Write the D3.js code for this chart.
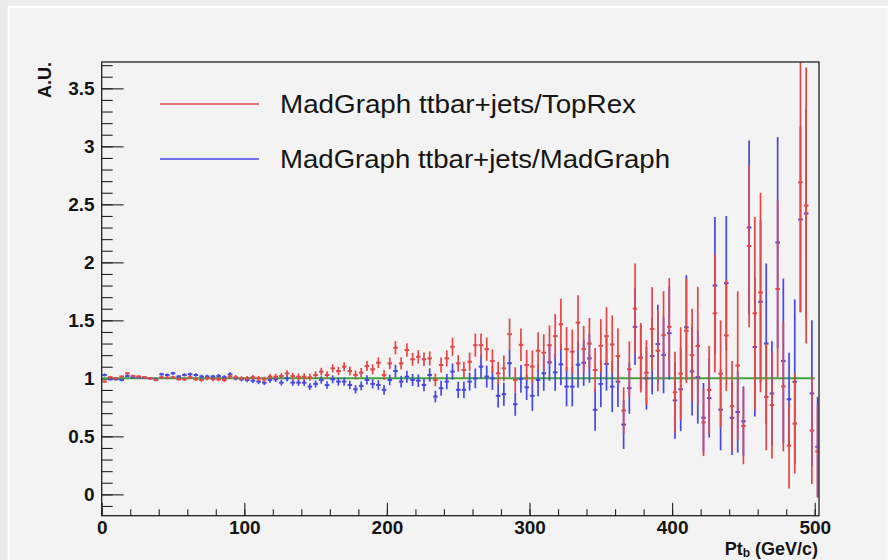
<!DOCTYPE html>
<html>
<head>
<meta charset="utf-8">
<script src="https://cdn.jsdelivr.net/npm/d3@7"></script>
<style>
  body { margin: 0; background: #ececec; }
  text { font-family: "Liberation Sans", Arial, sans-serif; fill: #151515; }
</style>
</head>
<body>
<div id="chart"></div>
<script>
/* global d3 */

// bin centres (GeV/c), 4 GeV wide bins
const ptBins = [2,6,10,14,18,22,26,30,34,38,42,46,50,54,58,62,66,70,74,78,82,86,90,94,98,
  102,106,110,114,118,122,126,130,134,138,142,146,150,154,158,162,166,170,174,178,182,186,190,194,198,
  202,206,210,214,218,222,226,230,234,238,242,246,250,254,258,262,266,270,274,278,282,286,290,294,298,
  302,306,310,314,318,322,326,330,334,338,342,346,350,354,358,362,366,370,374,378,382,386,390,394,398,
  402,406,410,414,418,422,426,430,434,438,442,446,450,454,458,462,466,470,474,478,482,486,490,494,498,502]

// MadGraph ttbar+jets / TopRex
const topRex = [0.972,1.009,1.0,1.015,1.043,1.02,1.015,1.009,1.0,0.986,1.009,1.006,1.009,0.992,0.992,
  1.009,0.992,0.986,1.0,0.992,0.992,0.986,1.015,1.009,1.0,1.0,1.009,1.0,0.992,1.015,1.015,1.02,
  1.043,1.02,1.014,1.014,1.009,1.029,1.058,1.029,1.086,1.063,1.101,1.063,1.029,1.049,1.106,1.078,1.135,1.029,
  1.129,1.264,1.129,1.244,1.164,1.186,1.164,1.172,0.986,1.115,1.172,1.272,1.129,1.072,1.143,1.286,
  1.286,1.252,1.149,1.043,1.086,1.381,0.986,1.289,1.115,
  1.101,1.238,1.221,1.286,1.364,1.466,1.252,1.23,1.481,1.252,1.3,1.072,
  1.281,1.364,1.292,1.192,0.723,1.078,1.601,1.178,1.049,1.426,1.238,1.372,1.444,
  0.88,1.04,1.41,1.2,1.28,0.62,0.9,1.56,1.04,1.37,0.76,1.11,0.59,2.14,1.56,1.74,0.84,0.77,1.77,0.93,0.42,0.61,2.69,2.49,0.55,0.37]
const topRexErr = [0.012,0.01,0.01,0.01,0.011,0.011,0.011,0.012,0.012,0.012,0.012,0.013,0.013,0.013,0.014,
  0.014,0.015,0.015,0.016,0.016,0.017,0.017,0.018,0.019,0.019,0.02,0.021,0.021,0.022,0.023,0.024,0.025,
  0.026,0.027,0.028,0.029,0.03,0.031,0.033,0.033,0.035,0.036,0.038,0.038,0.038,0.04,0.043,0.043,0.046,0.044,
  0.05,0.057,0.052,0.058,0.056,0.058,0.058,0.06,0.055,0.065,0.07,0.078,0.072,0.072,0.08,0.1,
  0.1,0.1,0.1,0.1,0.11,0.135,0.11,0.14,0.13,
  0.14,0.16,0.16,0.17,0.19,0.22,0.19,0.19,0.235,0.2,0.22,0.19,
  0.23,0.25,0.25,0.24,0.2,0.24,0.39,0.3,0.28,0.36,0.35,0.38,0.42,
  0.35,0.4,0.45,0.4,0.51,0.29,0.38,0.51,0.46,0.48,0.39,0.64,0.33,0.7,0.83,0.86,0.46,0.46,0.76,0.56,0.37,0.43,1.12,1.19,0.46,0.4]

// MadGraph ttbar+jets / MadGraph
const madGraph = [1.029,0.992,0.992,0.986,1.02,1.009,1.009,1.006,1.0,0.992,1.035,1.029,1.043,1.015,1.029,
  1.035,1.029,1.015,1.015,1.015,1.02,1.009,1.035,1.0,0.992,0.986,0.98,0.972,0.963,0.986,0.992,0.963,
  1.0,0.963,0.963,0.963,0.929,0.952,0.986,0.943,0.992,0.972,0.972,0.943,0.906,0.935,0.986,0.952,0.943,0.901,
  0.986,1.063,0.972,1.014,0.986,0.98,0.943,1.029,0.843,0.915,0.972,1.058,0.901,0.901,0.972,1.0,
  1.101,1.015,1.0,0.849,0.863,1.13,0.777,0.995,0.923,
  0.849,0.986,1.043,1.138,1.052,1.121,0.929,0.929,1.118,1.135,1.172,0.729,
  0.952,1.124,0.929,0.972,0.601,0.915,1.444,1.178,1.0,1.192,1.295,1.201,1.39,
  0.81,0.906,1.44,1.06,1.01,0.66,0.83,1.8,0.73,1.82,0.66,0.71,0.63,2.3,1.27,1.66,1.3,0.87,2.17,1.15,0.82,0.97,2.37,2.42,0.87,0.41]
const madGraphErr = [0.012,0.011,0.011,0.011,0.011,0.012,0.012,0.012,0.012,0.013,0.013,0.013,0.013,0.014,0.014,
  0.015,0.015,0.016,0.016,0.017,0.017,0.018,0.018,0.019,0.02,0.02,0.021,0.022,0.022,0.023,0.024,0.025,
  0.026,0.027,0.027,0.028,0.029,0.03,0.032,0.032,0.034,0.034,0.035,0.036,0.036,0.038,0.04,0.04,0.042,0.042,
  0.046,0.054,0.05,0.052,0.052,0.054,0.055,0.058,0.05,0.065,0.066,0.07,0.07,0.072,0.078,0.085,
  0.1,0.095,0.1,0.1,0.1,0.12,0.1,0.12,0.11,
  0.13,0.14,0.15,0.16,0.16,0.18,0.17,0.17,0.2,0.2,0.21,0.18,
  0.2,0.23,0.22,0.22,0.21,0.22,0.33,0.28,0.27,0.33,0.34,0.33,0.4,
  0.33,0.36,0.45,0.38,0.4,0.3,0.34,0.59,0.35,0.58,0.32,0.35,0.3,0.75,0.6,0.7,0.69,0.45,0.91,0.71,0.4,0.71,0.8,0.9,0.63,0.43]

const xTicks = [0, 100, 200, 300, 400, 500]
const yTicks = [0, 0.5, 1, 1.5, 2, 2.5, 3, 3.5]
const legendLabels = ['MadGraph ttbar+jets/TopRex', 'MadGraph ttbar+jets/MadGraph']

const red = '#e44648', blue = '#4747e4', green = '#3da63d'

const width = 888, height = 560
const frame = { left: 101.7, right: 819, top: 62, bottom: 515.7 }

let svg = d3.select('#chart')
  .append('svg')
  .attr('width', width)
  .attr('height', height)

// canvas border
svg.append('rect')
  .attr('x', 9).attr('y', 7)
  .attr('width', 880).attr('height', 560)
  .attr('fill', '#f3f3f3')
  .attr('stroke', '#fff')
  .attr('stroke-width', 2.5)

const xScale = d3.scaleLinear()
  .domain([0, 503])
  .range([frame.left, frame.right])

const yScale = d3.scaleLinear()
  .domain([-0.184, 3.727])
  .range([frame.bottom, frame.top])

svg.append('clipPath').attr('id', 'clip')
  .append('rect')
  .attr('x', frame.left).attr('y', frame.top)
  .attr('width', frame.right - frame.left)
  .attr('height', frame.bottom - frame.top)

// axes, ticks inside the frame like ROOT
const xMinor = d3.axisBottom(xScale)
  .tickValues(d3.range(0, 501, 20))
  .tickSize(-6.5)
  .tickFormat('')
const xAxis = d3.axisBottom(xScale)
  .tickValues(xTicks)
  .tickSize(-13)
  .tickPadding(5)
  .tickFormat(d3.format('d'))

const yMinor = d3.axisLeft(yScale)
  .tickValues(d3.range(-1, 38).map(d => d / 10))
  .tickSize(-11)
  .tickFormat('')
const yAxis = d3.axisLeft(yScale)
  .tickValues(yTicks)
  .tickSize(-22)
  .tickPadding(7)
  .tickFormat(d => d)

const styleAxis = g => {
  g.select('.domain').remove()
  g.selectAll('line').attr('stroke', '#222').attr('stroke-width', 1.1)
  g.selectAll('text')
    .style('font-size', '19px')
    .style('font-weight', 'bold')
    .attr('fill', '#151515')
}

svg.append('g').attr('transform', `translate(0, ${frame.bottom})`).call(xMinor).call(styleAxis)
svg.append('g').attr('transform', `translate(0, ${frame.bottom})`).call(xAxis).call(styleAxis)
svg.append('g').attr('transform', `translate(${frame.left}, 0)`).call(yMinor).call(styleAxis)
svg.append('g').attr('transform', `translate(${frame.left}, 0)`).call(yAxis).call(styleAxis)

// reference line at 1
svg.append('line')
  .attr('x1', xScale(0)).attr('x2', xScale(500))
  .attr('y1', yScale(1)).attr('y2', yScale(1))
  .attr('stroke', green)
  .attr('stroke-width', 2)

// error bar drawing
let drawSeries = (values, errors, color) => {
  const pts = ptBins.map((x, i) => ({ x: x, v: values[i], e: errors[i] }))
  const g = svg.append('g').attr('clip-path', 'url(#clip)')

  g.selectAll('line.v')
    .data(pts)
    .enter()
    .append('line')
    .attr('class', 'v')
    .attr('x1', d => xScale(d.x)).attr('x2', d => xScale(d.x))
    .attr('y1', d => yScale(d.v - d.e))
    .attr('y2', d => yScale(d.v + d.e))
    .attr('stroke', color)
    .attr('stroke-width', 1.7)

  g.selectAll('line.h')
    .data(pts)
    .enter()
    .append('line')
    .attr('class', 'h')
    .attr('x1', d => xScale(d.x - 1.6)).attr('x2', d => xScale(d.x + 1.6))
    .attr('y1', d => yScale(d.v)).attr('y2', d => yScale(d.v))
    .attr('stroke', color)
    .attr('stroke-width', 2)
}

drawSeries(madGraph, madGraphErr, blue)
drawSeries(topRex, topRexErr, red)

// frame
svg.append('rect')
  .attr('x', frame.left).attr('y', frame.top)
  .attr('width', frame.right - frame.left)
  .attr('height', frame.bottom - frame.top)
  .attr('fill', 'none')
  .attr('stroke', '#222')
  .attr('stroke-width', 1.3)

// legend
const legend = svg.append('g')
const legendWidths = [356, 390]
legendLabels.forEach((label, i) => {
  const ly = 104 + i * 55
  legend.append('line')
    .attr('x1', 160).attr('x2', 259)
    .attr('y1', ly).attr('y2', ly)
    .attr('stroke', i === 0 ? red : blue)
    .attr('stroke-width', 1.6)
  legend.append('text')
    .attr('x', 280).attr('y', ly + 9)
    .attr('textLength', legendWidths[i])
    .attr('lengthAdjust', 'spacingAndGlyphs')
    .style('font-size', '26px')
    .text(label)
})

// axis titles
svg.append('text')
  .attr('transform', 'translate(51, 62) rotate(-90)')
  .attr('text-anchor', 'end')
  .style('font-size', '18px')
  .style('font-weight', 'bold')
  .text('A.U.')

const xTitle = svg.append('text')
  .attr('x', 818).attr('y', 555)
  .attr('text-anchor', 'end')
  .style('font-size', '18px')
  .style('font-weight', 'bold')
xTitle.append('tspan').text('Pt')
xTitle.append('tspan').attr('dy', 2).style('font-size', '12px').text('b')
xTitle.append('tspan').attr('dy', -2).text(' (GeV/c)')
</script>
</body>
</html>
